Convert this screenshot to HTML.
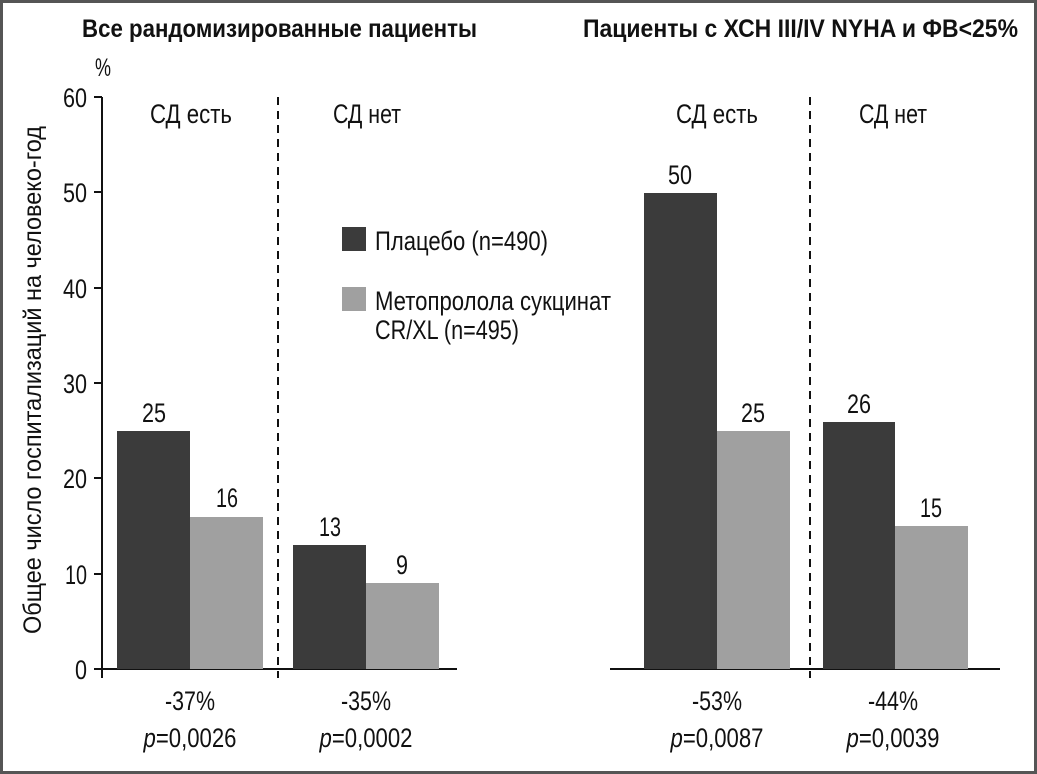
<!DOCTYPE html>
<html><head><meta charset="utf-8"><style>
html,body{margin:0;padding:0;background:#fff}
svg{display:block}
text{font-family:"Liberation Sans Narrow","Liberation Sans",sans-serif;fill:#111}
</style></head><body>
<svg width="1037" height="774" viewBox="0 0 1037 774">
<rect x="1.5" y="1.5" width="1034" height="771" fill="#fff" stroke="#555" stroke-width="3"/>
<text x="82" y="37" font-size="25" font-weight="bold" textLength="395" lengthAdjust="spacingAndGlyphs">Все рандомизированные пациенты</text>
<text x="583" y="37" font-size="25" font-weight="bold" textLength="435" lengthAdjust="spacingAndGlyphs">Пациенты с ХСН III/IV NYHA и ФВ&lt;25%</text>
<text x="95" y="76" font-size="25" textLength="16" lengthAdjust="spacingAndGlyphs">%</text>
<line x1="102" y1="97" x2="102" y2="678" stroke="#111" stroke-width="2"/>
<g stroke="#111" stroke-width="2">
<line x1="94" y1="97" x2="102" y2="97"/><line x1="94" y1="192" x2="102" y2="192"/>
<line x1="94" y1="288" x2="102" y2="288"/><line x1="94" y1="383" x2="102" y2="383"/>
<line x1="94" y1="478" x2="102" y2="478"/><line x1="94" y1="574" x2="102" y2="574"/>
<line x1="94" y1="669" x2="102" y2="669"/>
</g>
<g font-size="27" text-anchor="end">
<text x="87" y="107" textLength="24" lengthAdjust="spacingAndGlyphs">60</text>
<text x="87" y="202" textLength="24" lengthAdjust="spacingAndGlyphs">50</text>
<text x="87" y="298" textLength="24" lengthAdjust="spacingAndGlyphs">40</text>
<text x="87" y="393" textLength="24" lengthAdjust="spacingAndGlyphs">30</text>
<text x="87" y="488" textLength="24" lengthAdjust="spacingAndGlyphs">20</text>
<text x="87" y="584" textLength="22" lengthAdjust="spacingAndGlyphs">10</text>
<text x="87" y="679" textLength="12" lengthAdjust="spacingAndGlyphs">0</text>
</g>
<text transform="translate(41,380) rotate(-90)" font-size="25" text-anchor="middle" textLength="508" lengthAdjust="spacingAndGlyphs">Общее число госпитализаций на человеко-год</text>
<line x1="102" y1="669" x2="457" y2="669" stroke="#111" stroke-width="2"/>
<line x1="610" y1="669" x2="1000" y2="669" stroke="#111" stroke-width="2"/>
<line x1="278" y1="97" x2="278" y2="678" stroke="#111" stroke-width="2" stroke-dasharray="8,6"/>
<line x1="810" y1="97" x2="810" y2="678" stroke="#111" stroke-width="2" stroke-dasharray="8,6"/>
<g fill="#3b3b3b">
<rect x="117" y="431" width="73" height="238"/>
<rect x="293" y="545" width="73" height="124"/>
<rect x="644" y="193" width="73" height="476"/>
<rect x="823" y="422" width="72" height="247"/>
</g>
<g fill="#a0a0a0">
<rect x="190" y="517" width="73" height="152"/>
<rect x="366" y="583" width="73" height="86"/>
<rect x="717" y="431" width="73" height="238"/>
<rect x="895" y="526" width="73" height="143"/>
</g>
<g font-size="27" text-anchor="middle">
<text x="154" y="422" textLength="24" lengthAdjust="spacingAndGlyphs">25</text>
<text x="227" y="507" textLength="22" lengthAdjust="spacingAndGlyphs">16</text>
<text x="330" y="536" textLength="22" lengthAdjust="spacingAndGlyphs">13</text>
<text x="402" y="574" textLength="12" lengthAdjust="spacingAndGlyphs">9</text>
<text x="680" y="184" textLength="24" lengthAdjust="spacingAndGlyphs">50</text>
<text x="753" y="422" textLength="24" lengthAdjust="spacingAndGlyphs">25</text>
<text x="859" y="413" textLength="24" lengthAdjust="spacingAndGlyphs">26</text>
<text x="931" y="517" textLength="22" lengthAdjust="spacingAndGlyphs">15</text>
<text x="191" y="123" textLength="82" lengthAdjust="spacingAndGlyphs">СД есть</text>
<text x="367" y="123" textLength="68" lengthAdjust="spacingAndGlyphs">СД нет</text>
<text x="717" y="123" textLength="82" lengthAdjust="spacingAndGlyphs">СД есть</text>
<text x="893" y="123" textLength="68" lengthAdjust="spacingAndGlyphs">СД нет</text>
<text x="190" y="710" textLength="50" lengthAdjust="spacingAndGlyphs">-37%</text>
<text x="366" y="710" textLength="50" lengthAdjust="spacingAndGlyphs">-35%</text>
<text x="717" y="710" textLength="50" lengthAdjust="spacingAndGlyphs">-53%</text>
<text x="893" y="710" textLength="50" lengthAdjust="spacingAndGlyphs">-44%</text>
<text x="190" y="747" textLength="93" lengthAdjust="spacingAndGlyphs"><tspan font-style="italic">p</tspan>=0,0026</text>
<text x="366" y="747" textLength="93" lengthAdjust="spacingAndGlyphs"><tspan font-style="italic">p</tspan>=0,0002</text>
<text x="717" y="747" textLength="93" lengthAdjust="spacingAndGlyphs"><tspan font-style="italic">p</tspan>=0,0087</text>
<text x="893" y="747" textLength="93" lengthAdjust="spacingAndGlyphs"><tspan font-style="italic">p</tspan>=0,0039</text>
</g>
<rect x="342" y="227" width="24" height="24" fill="#3b3b3b"/>
<rect x="342" y="287" width="24" height="24" fill="#a0a0a0"/>
<g font-size="27">
<text x="375" y="250" textLength="173" lengthAdjust="spacingAndGlyphs">Плацебо (n=490)</text>
<text x="375" y="310" textLength="236" lengthAdjust="spacingAndGlyphs">Метопролола сукцинат</text>
<text x="375" y="339" textLength="144" lengthAdjust="spacingAndGlyphs">CR/XL (n=495)</text>
</g>
</svg>
</body></html>
